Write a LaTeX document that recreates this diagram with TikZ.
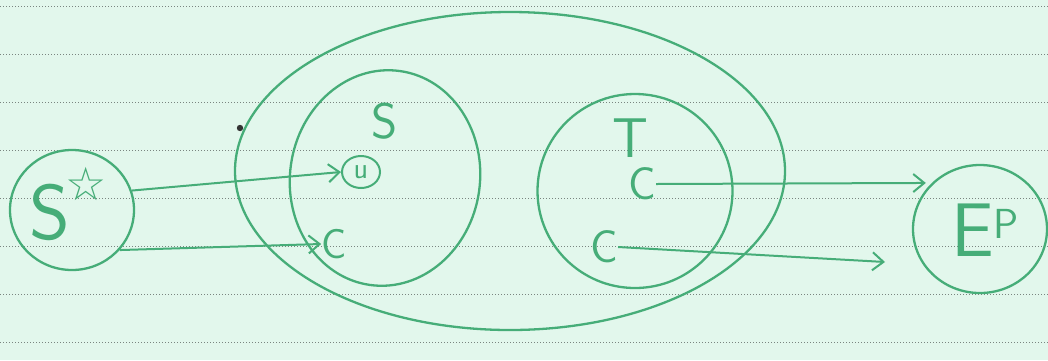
\documentclass[tikz,border=0pt]{standalone}
\usepackage{fontspec}
\newfontfamily\symfont{DejaVu Sans}
\usetikzlibrary{shapes.geometric,arrows.meta}
\definecolor{paper}{HTML}{E2F7EC}
\definecolor{pen}{HTML}{46AD78}
\definecolor{rule}{HTML}{7A8580}
\tikzset{
  pen/.style={draw=pen, line width=2.3pt},
  blob/.style={pen, ellipse, inner sep=0pt},
  lbl/.style={text=pen, inner sep=0pt, font=\sffamily},
  conn/.style={pen, line width=2pt, -{Straight Barb[length=11pt,width=18pt,line width=2pt]}},
  ruleline/.style={draw=rule, line width=0.9pt, dash pattern=on 0.9pt off 2.1pt}
}
\begin{document}
\begin{tikzpicture}[x=1pt,y=-1pt]
\fill[paper] (0,0) rectangle (1048,360);
\useasboundingbox (0,0) rectangle (1048,360);
\foreach \yy in {6,54,102,150,198,246,294,342}
  \draw[ruleline] (0,\yy) -- (1048,\yy);
% outer shapes
\node[blob, minimum width=124pt, minimum height=120pt] (sstar) at (72,210) {};
\node[blob, minimum width=550pt, minimum height=318pt] (big) at (510,171) {};
\node[blob, minimum width=190pt, minimum height=216pt, rotate=-8] (sbox) at (385,178) {};
\node[blob, minimum width=195pt, minimum height=194pt] (tbox) at (635,191) {};
\node[blob, minimum width=134pt, minimum height=128pt] (ep) at (980,229) {};
% labels
\node[lbl, font=\sffamily\fontsize{78}{78}\selectfont] (sl) at (50,212) {S};
\node[lbl, font=\symfont\fontsize{46}{46}\selectfont] (star) at (86,184) {☆};
\node[lbl, font=\sffamily\fontsize{50}{50}\selectfont] (sname) at (385,121) {S};
\node[lbl, font=\sffamily\fontsize{56}{56}\selectfont] (tname) at (630,138) {T};
\node[lbl, font=\sffamily\fontsize{76}{76}\selectfont] (epname) at (985,230) {E\raisebox{18pt}{\fontsize{42}{42}\selectfont P}};
\node[lbl, draw=pen, line width=2pt, ellipse, minimum width=38pt, minimum height=32pt, font=\sffamily\fontsize{30}{30}\selectfont] (u) at (361,172) {u};
\node[lbl, font=\sffamily\fontsize{42}{42}\selectfont] (c) at (334,244) {C};
\node[lbl, font=\sffamily\fontsize{46}{46}\selectfont] (t1) at (642,184) {C};
\node[lbl, font=\sffamily\fontsize{46}{46}\selectfont] (t2) at (604,247) {C};
\coordinate (end4) at (885,262);
% connectors
\draw[conn] (sstar.18) -- (u.west);
\draw[conn] (sstar.-40) -- (c.west);
\draw[conn, shorten >=6pt] (t1.east) -- (ep.north west);
\draw[conn] (t2.east) -- (end4);
% dot
\fill[black!80] (240,128) circle (3.2pt);
\end{tikzpicture}
\end{document}
